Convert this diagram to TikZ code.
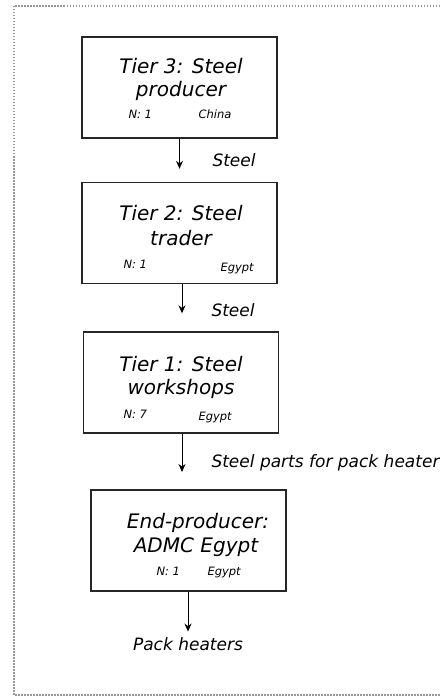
\documentclass[tikz,border=0pt]{standalone}
\usepackage{fontspec}
\setmainfont{DejaVu Sans}
\usepackage{tikz}
\usetikzlibrary{arrows.meta}
\tikzset{t/.style={font=\fontsize{20}{20}\selectfont\itshape, anchor=base}}
\tikzset{s/.style={font=\fontsize{11.5}{11.5}\selectfont\itshape, anchor=base west}}
\tikzset{l/.style={font=\fontsize{17}{17}\selectfont\itshape, anchor=base west}}
\tikzset{tier/.style={draw=black!85, line width=1.4pt, minimum width=195pt, minimum height=101pt, inner sep=0pt}}
\tikzset{flow/.style={-{Stealth[length=8pt,width=7pt]}, line width=1pt}}

\begin{document}
\begin{tikzpicture}[x=1pt,y=-1pt]
          \useasboundingbox (0,0) rectangle (439,700);
          \draw[black!40, line width=1.5pt, dash pattern=on 1.5pt off 1.5pt] (470,6) -- (14,6) -- (14,695) -- (470,695);
          % boxes
          \node[tier] (T3) at (179.5,87.5) {};
          \node[tier] (T2) at (179.5,233) {};
          \node[tier] (T1) at (181,382.5) {};
          \node[tier] (EP) at (188.5,540.5) {};
          % texts in the boxes
          \node[t] (T3a) at (181,74) {Tier 3: Steel};
          \node[t] (T3b) at (181,97) {producer};
          \node[s] (T3n) at (125,119) {N: 1};
          \node[s] (T3c) at (195,119) {China};
          \node[t] (T2a) at (181,221) {Tier 2: Steel};
          \node[t] (T2b) at (181,245) {trader};
          \node[s] (T2n) at (120,268) {N: 1};
          \node[s] (T2c) at (217,271) {Egypt};
          \node[t] (T1a) at (181,371) {Tier 1: Steel};
          \node[t] (T1b) at (181,394) {workshops};
          \node[s] (T1n) at (120,418) {N: 7};
          \node[s] (T1c) at (195,420) {Egypt};
          \node[t] (EPa) at (198,528) {End-producer:};
          \node[t] (EPb) at (196,552) {ADMC Egypt};
          \node[s] (EPn) at (153,575) {N: 1};
          \node[s] (EPc) at (204,575) {Egypt};
          % flows
          \node[l, anchor=base] (PH) at (188,650) {Pack heaters};
          \coordinate (A3) at (182,472);
          \draw[flow, shorten >=13pt] (T3.south) -- (T2.north);
          \draw[flow, shorten >=18pt] (T2.south -| 182,0) -- (T1.north -| 182,0);
          \draw[flow] (T1.south -| A3) -- (A3);
          \draw[flow, shorten >=2pt] (EP.south -| 188,0) -- (PH.north -| 188,0);
          \node[l] at (209,167) {Steel};
          \node[l] at (208,316) {Steel};
          \node[l] at (208,467) {Steel parts for pack heater};
        \end{tikzpicture}
\end{document}
